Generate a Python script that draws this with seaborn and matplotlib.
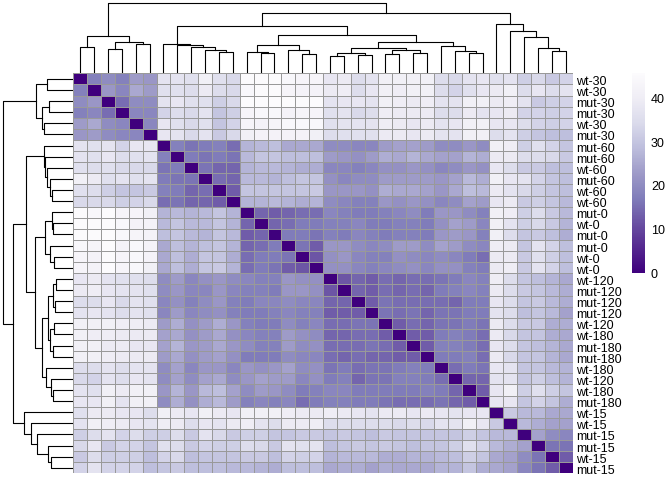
import numpy as np
import pandas as pd
import seaborn as sns
import matplotlib.pyplot as plt
from matplotlib.transforms import ScaledTranslation

# 1. Sample labels, in clustered order
labels = ['wt-30', 'wt-30', 'mut-30', 'mut-30', 'wt-30', 'mut-30',
          'mut-60', 'mut-60', 'wt-60', 'mut-60', 'wt-60', 'wt-60',
          'mut-0', 'wt-0', 'mut-0', 'mut-0', 'wt-0', 'wt-0',
          'wt-120', 'mut-120', 'mut-120', 'mut-120', 'wt-120', 'wt-180',
          'mut-180', 'mut-180', 'wt-180', 'wt-120', 'wt-180', 'mut-180',
          'wt-15', 'wt-15', 'mut-15', 'mut-15', 'wt-15', 'mut-15']

# 2. Sample distances, lower triangle only (the diagonal is 0)
lower = [
    [],
    [18],
    [20, 22],
    [18, 19, 15],
    [23, 25, 20, 19],
    [22, 23, 20, 19, 19],
    [37, 36, 37, 33, 38, 38],
    [37, 36, 38, 35, 36, 37, 18],
    [36, 35, 36, 34, 34, 34, 16, 17],
    [41, 39, 36, 37, 36, 37, 17, 16, 16],
    [36, 35, 32, 30, 30, 31, 18, 17, 14, 15],
    [34, 34, 34, 32, 33, 34, 15, 16, 14, 14, 13],
    [45, 44, 46, 43, 43, 41, 27, 28, 27, 28, 30, 27],
    [45, 45, 46, 44, 42, 42, 28, 30, 28, 28, 30, 27, 14],
    [45, 45, 46, 44, 43, 42, 29, 30, 28, 27, 30, 28, 13, 14],
    [44, 43, 46, 42, 44, 42, 25, 29, 27, 29, 30, 27, 14, 15, 17],
    [43, 42, 45, 43, 44, 42, 25, 29, 26, 30, 30, 26, 15, 17, 17, 16],
    [43, 42, 46, 43, 44, 41, 25, 29, 26, 30, 31, 27, 15, 17, 16, 13, 12],
    [38, 39, 37, 36, 36, 35, 20, 23, 19, 21, 22, 20, 19, 18, 18, 22, 21, 21],
    [39, 40, 38, 37, 37, 36, 20, 22, 19, 19, 22, 19, 18, 18, 17, 22, 22, 21, 12],
    [35, 35, 38, 34, 37, 36, 19, 21, 18, 20, 22, 18, 17, 19, 19, 20, 19, 19, 14, 14],
    [37, 38, 37, 35, 37, 36, 19, 23, 19, 20, 21, 18, 17, 17, 18, 19, 18, 18, 13, 13, 13],
    [41, 41, 41, 40, 40, 39, 23, 26, 21, 23, 26, 22, 18, 17, 17, 20, 18, 19, 15, 15, 16, 16],
    [41, 40, 40, 39, 39, 39, 24, 25, 21, 23, 25, 21, 19, 18, 18, 23, 21, 20, 14, 14, 15, 15, 13],
    [41, 41, 39, 39, 38, 38, 24, 27, 22, 23, 25, 22, 20, 18, 18, 23, 20, 21, 15, 15, 15, 16, 15, 13],
    [41, 41, 40, 39, 39, 39, 23, 25, 21, 23, 24, 21, 17, 17, 17, 20, 19, 19, 15, 14, 15, 14, 14, 13, 13],
    [35, 35, 37, 35, 37, 37, 20, 24, 19, 22, 22, 19, 22, 21, 22, 24, 20, 21, 16, 17, 15, 16, 16, 17, 18, 17],
    [34, 33, 37, 35, 38, 37, 20, 24, 20, 24, 25, 20, 22, 24, 23, 23, 19, 21, 17, 18, 14, 16, 16, 18, 18, 17, 15],
    [37, 36, 41, 39, 41, 41, 22, 27, 22, 28, 29, 24, 20, 23, 22, 20, 17, 18, 19, 19, 17, 17, 17, 17, 17, 18, 17, 14],
    [38, 38, 41, 37, 41, 41, 20, 26, 21, 26, 28, 23, 18, 19, 18, 19, 15, 17, 18, 18, 17, 17, 16, 15, 15, 15, 16, 14, 13],
    [36, 39, 39, 38, 38, 35, 41, 39, 38, 41, 39, 38, 41, 41, 41, 40, 39, 39, 40, 39, 38, 37, 39, 39, 38, 39, 38, 37, 38, 38],
    [37, 41, 40, 39, 38, 37, 40, 39, 35, 38, 37, 39, 40, 37, 35, 39, 39, 40, 35, 35, 35, 35, 35, 34, 35, 34, 37, 37, 41, 38, 31],
    [32, 35, 37, 33, 35, 32, 32, 35, 31, 37, 34, 31, 32, 32, 30, 30, 31, 31, 30, 31, 30, 29, 31, 30, 30, 30, 30, 30, 32, 30, 28, 28],
    [34, 38, 31, 33, 33, 30, 36, 35, 31, 33, 32, 32, 35, 34, 31, 37, 36, 37, 29, 30, 31, 30, 31, 30, 29, 30, 30, 32, 36, 33, 28, 26, 24],
    [31, 35, 32, 32, 32, 29, 33, 34, 29, 30, 30, 30, 31, 31, 29, 33, 32, 33, 27, 28, 28, 28, 26, 26, 27, 27, 28, 29, 32, 30, 25, 24, 20, 16],
    [33, 37, 33, 33, 33, 29, 30, 31, 29, 29, 29, 28, 28, 27, 26, 29, 29, 29, 25, 26, 26, 24, 26, 25, 25, 25, 27, 27, 30, 26, 25, 24, 19, 16, 13],
]

# 3. Merge tree shared by rows and columns: (merge height, left, right)
tree_30 = (37, (26, 0, 1), (31, (24, 2, 3), (29, 4, 5)))
tree_60 = (29.3, 6, (28, 7, (26, 8, (23.7, 9, (21, 10, 11)))))
tree_0 = (28, (21, 12, (20, 13, 14)), (23, 15, (19, 16, 17)))
tree_early = (25, (20, (17, 18, 19), (18.5, 20, 21)), (23, (19, 22, 23), (20, 24, 25)))
tree_late = (27, 26, (22, 27, (20, 28, 29)))
tree_15 = (49, 30, (42, 31, (36, 32, (25, 33, (22, 34, 35)))))
tree_120 = (31, tree_early, tree_late)
tree = (70, tree_30, (60, (47, tree_60, (38, tree_0, tree_120)), tree_15))

n = len(labels)
dist = np.zeros((n, n))
for i, row in enumerate(lower):
    dist[i, :i] = row
    dist[:i, i] = row
df = pd.DataFrame(dist, index=labels, columns=labels)

plt.rcParams['font.family'] = ['Liberation Sans', 'DejaVu Sans']
W, H = 672, 480
fig = plt.figure(figsize=(W / 100, H / 100), dpi=100)


def px_axes(left, top, right, bottom):
    return fig.add_axes([left / W, 1 - bottom / H, (right - left) / W, (bottom - top) / H])


ax = px_axes(73.3, 73.3, 572.7, 473.3)
ax_top = px_axes(73.3, 0, 572.7, 73.3)
ax_left = px_axes(0, 73.3, 73.3, 473.3)
cax = px_axes(632, 73.3, 645, 273.3)

# 4. Heatmap and colour bar
sns.heatmap(df, ax=ax, cmap='Purples_r', vmin=0, vmax=45.7, linewidths=0.72, linecolor='#999999',
            xticklabels=False, yticklabels=True, cbar_ax=cax,
            cbar_kws={'ticks': [0, 10, 20, 30, 40]})
ax.yaxis.tick_right()
ax.tick_params(axis='y', length=0, pad=2.4, labelsize=9, labelrotation=0, labelcolor='black')
ax.set_xlabel('')
ax.set_ylabel('')
cax.tick_params(length=0, pad=4.3, labelsize=9)
ax.collections[0].colorbar.outline.set_visible(False)

# the row labels sit a little under the cell centres
shift = ScaledTranslation(0, -0.015, fig.dpi_scale_trans)
for t in ax.get_yticklabels():
    t.set_transform(t.get_transform() + shift)


# 5. Dendrograms
def draw(node, axis, vertical):
    if isinstance(node, int):
        return node + 0.5, 0
    height, left, right = node
    p1, h1 = draw(left, axis, vertical)
    p2, h2 = draw(right, axis, vertical)
    xs, ys = [p1, p1, p2, p2], [h1, height, height, h2]
    if vertical:
        axis.plot(xs, ys, color='black', lw=0.8)
    else:
        axis.plot(ys, xs, color='black', lw=0.8)
    return (p1 + p2) / 2, height


draw(tree, ax_top, True)
ax_top.set_xlim(0, n)
ax_top.set_ylim(0, 73.3)
ax_top.axis('off')

draw(tree, ax_left, False)
ax_left.set_xlim(73.3, 0)
ax_left.set_ylim(n, 0)
ax_left.axis('off')

fig.savefig('out.png', dpi=100)
